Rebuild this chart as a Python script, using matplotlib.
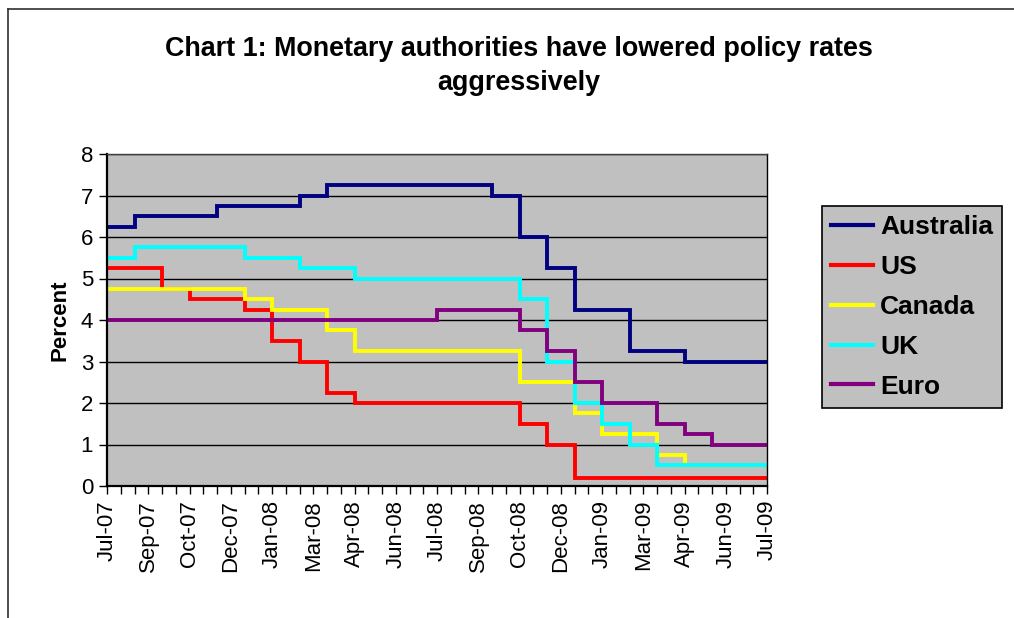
# policy rates step chart, Jul-07 to Jul-09
import matplotlib.pyplot as plt
import numpy as np
from matplotlib.lines import Line2D

plt.rcParams['font.family'] = ['Liberation Sans', 'DejaVu Sans']

# month index 0 = Jul-07 ... 24 = Jul-09
months = np.arange(25)
australia = [6.25, 6.5, 6.5, 6.5, 6.75, 6.75, 6.75, 7.0, 7.25, 7.25, 7.25, 7.25, 7.25,
             7.25, 7.0, 6.0, 5.25, 4.25, 4.25, 3.25, 3.25, 3.0, 3.0, 3.0, 3.0]
us = [5.25, 5.25, 4.75, 4.5, 4.5, 4.25, 3.5, 3.0, 2.25, 2.0, 2.0, 2.0, 2.0,
      2.0, 2.0, 1.5, 1.0, 0.2, 0.2, 0.2, 0.2, 0.2, 0.2, 0.2, 0.2]
canada = [4.75, 4.75, 4.75, 4.75, 4.75, 4.5, 4.25, 4.25, 3.75, 3.25, 3.25, 3.25, 3.25,
          3.25, 3.25, 2.5, 2.5, 1.75, 1.25, 1.25, 0.75, 0.5, 0.5, 0.5, 0.5]
uk = [5.5, 5.75, 5.75, 5.75, 5.75, 5.5, 5.5, 5.25, 5.25, 5.0, 5.0, 5.0, 5.0,
      5.0, 5.0, 4.5, 3.0, 2.0, 1.5, 1.0, 0.5, 0.5, 0.5, 0.5, 0.5]
euro = [4.0, 4.0, 4.0, 4.0, 4.0, 4.0, 4.0, 4.0, 4.0, 4.0, 4.0, 4.0, 4.25,
        4.25, 4.25, 3.75, 3.25, 2.5, 2.0, 2.0, 1.5, 1.25, 1.0, 1.0, 1.0]

tick_labels = ['Jul-07', 'Sep-07', 'Oct-07', 'Dec-07', 'Jan-08', 'Mar-08', 'Apr-08',
               'Jun-08', 'Jul-08', 'Sep-08', 'Oct-08', 'Dec-08', 'Jan-09', 'Mar-09',
               'Apr-09', 'Jun-09', 'Jul-09']

series = [
    ('Australia', australia, '#000080'),
    ('US', us, '#ff0000'),
    ('Canada', canada, '#ffff00'),
    ('UK', uk, '#00ffff'),
    ('Euro', euro, '#800080'),
]

W, H = 1014, 618
fig = plt.figure(figsize=(W / 100, H / 100), dpi=100)
ax = fig.add_axes([107 / W, 1 - 486 / H, 660 / W, 332 / H])
ax.set_facecolor('#c0c0c0')

for name, vals, color in series:
    ax.step(months, vals, where='post', color=color, lw=2.8, label=name,
            solid_joinstyle='miter')

ax.set_xlim(0, 24)
ax.set_ylim(0, 8)
ax.set_yticks(range(9))
ax.yaxis.grid(True, color='black', lw=1)
ax.set_axisbelow(True)

ax.set_xticks(np.arange(len(tick_labels)) * 1.5)
ax.set_xticklabels(tick_labels, rotation=90)
ax.set_xticks(np.arange(0, 24.01, 0.5), minor=True)
ax.tick_params(axis='x', which='both', direction='out', length=6, width=1, labelsize=16, pad=4)
ax.tick_params(axis='y', direction='out', length=6, width=1, labelsize=16, pad=4)
ax.set_ylabel('Percent', fontsize=16, fontweight='bold', labelpad=7)

for s in ax.spines.values():
    s.set_color('black')
    s.set_linewidth(1)
ax.spines['left'].set_linewidth(1.6)
ax.spines['bottom'].set_linewidth(1.6)
ax.spines['top'].set_color('#404040')

fig.text(0.512, 1 - 36 / H,
         'Chart 1: Monetary authorities have lowered policy rates\naggressively',
         ha='center', va='top', fontsize=19.4, fontweight='bold', linespacing=1.4)

leg = fig.legend(loc='upper left', bbox_to_anchor=(822 / W, 1 - 206 / H),
                 prop={'size': 19, 'weight': 'bold'}, frameon=True, fancybox=False,
                 facecolor='#c0c0c0', edgecolor='black', framealpha=1,
                 handlelength=1.6, handletextpad=0.25, labelspacing=0.6,
                 borderpad=0.35, borderaxespad=0)
leg.get_frame().set_linewidth(1.2)
for h in leg.get_lines():
    h.set_linewidth(3)

# outer chart border (top and left edges visible)
fig.add_artist(Line2D([8 / W, 8 / W], [0, 1 - 9 / H], transform=fig.transFigure,
                      color='#303030', lw=1.2))
fig.add_artist(Line2D([8 / W, 1], [1 - 9 / H, 1 - 9 / H], transform=fig.transFigure,
                      color='#303030', lw=1.2))

fig.savefig('out.png', dpi=100)
